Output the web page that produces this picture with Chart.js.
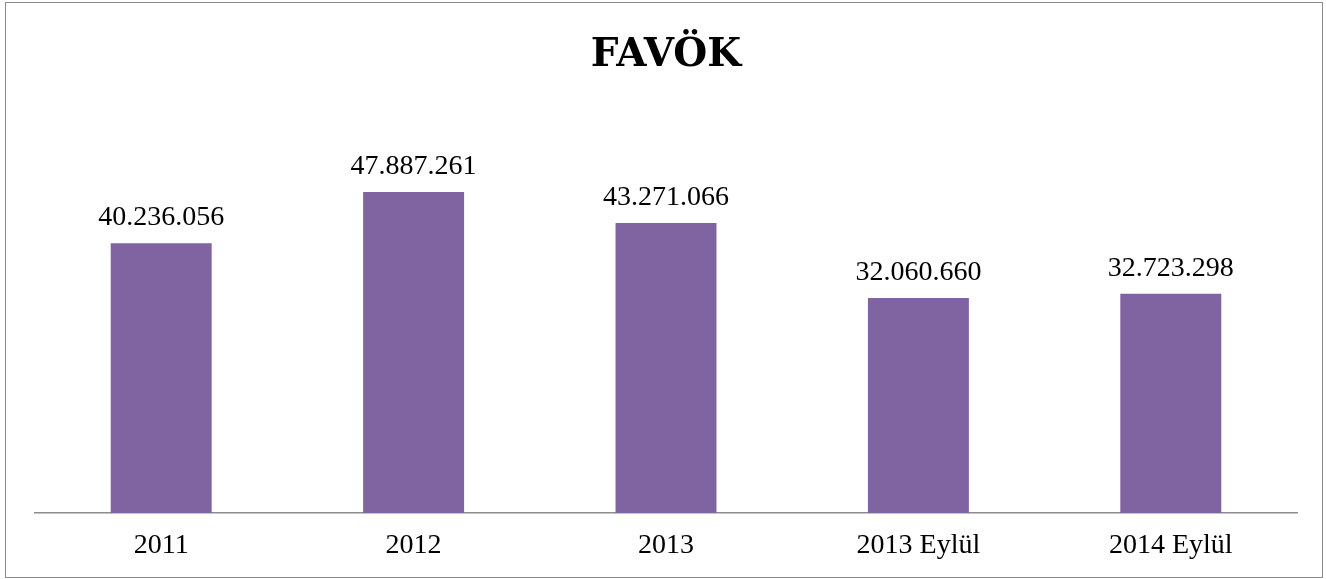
<!DOCTYPE html>
<html>
<head>
<meta charset="utf-8">
<script src="https://cdn.jsdelivr.net/npm/chart.js@4"></script>
<style>
  html, body { margin: 0; padding: 0; background: #fff; }
  #cerceve {
    position: absolute; left: 5px; top: 2px;
    width: 1316px; height: 574px;
    border: 1.5px solid #8c8c8c;
  }
  #kutu { position: absolute; left: 0; top: 0; width: 1326px; height: 579px; }
</style>
</head>
<body>
<div id="cerceve"></div>
<div id="kutu"><canvas id="grafikFavok"></canvas></div>
<script>
// Veriler
const donemler = ['2011', '2012', '2013', '2013 Eylül', '2014 Eylül'];
const favokDegerleri = [40236056, 47887261, 43271066, 32060660, 32723298];

const yaziTipi = "'Liberation Serif', serif";
const baslikYaziTipi = "'DejaVu Serif', serif";

// binlik ayırıcı olarak nokta
function binlikNokta(sayi) {
    return String(sayi).replace(/\B(?=(\d{3})+(?!\d))/g, '.');
}

// çubukların üstüne değer yazan küçük eklenti
const degerEtiketleri = {
    id: 'degerEtiketleri',
    afterDatasetsDraw(chart) {
        const ctx = chart.ctx;
        const meta = chart.getDatasetMeta(0);
        ctx.save();
        ctx.font = '28px ' + yaziTipi;
        ctx.fillStyle = '#000';
        ctx.textAlign = 'center';
        ctx.textBaseline = 'alphabetic';
        meta.data.forEach((cubuk, i) => {
            ctx.fillText(binlikNokta(chart.data.datasets[0].data[i]), cubuk.x, cubuk.y - 18);
        });
        ctx.restore();
    }
};

new Chart(document.getElementById('grafikFavok'), {
    type: 'bar',
    data: {
        labels: donemler,
        datasets: [{
            label: 'FAVÖK',
            data: favokDegerleri,
            backgroundColor: '#8064A2',
            borderWidth: 0,
            categoryPercentage: 1.0,
            barPercentage: 0.4
        }]
    },
    options: {
        responsive: true,
        maintainAspectRatio: false,
        animation: false,
        layout: { padding: { left: 35, right: 29, top: 0, bottom: 0 } },
        plugins: {
            legend: { display: false },
            tooltip: { enabled: false },
            title: {
                display: true,
                text: 'FAVÖK',
                color: '#000',
                font: { family: baslikYaziTipi, size: 39, weight: 'bold' },
                padding: { top: 32, bottom: 32 }
            }
        },
        scales: {
            x: {
                grid: { display: false, drawTicks: false },
                border: { display: true, color: '#8c8c8c', width: 1.5 },
                ticks: { color: '#000', padding: 19, font: { family: yaziTipi, size: 28, lineHeight: 1 } }
            },
            y: {
                display: false,
                min: 0,
                max: 60000000
            }
        }
    },
    plugins: [degerEtiketleri]
});
</script>
</body>
</html>
